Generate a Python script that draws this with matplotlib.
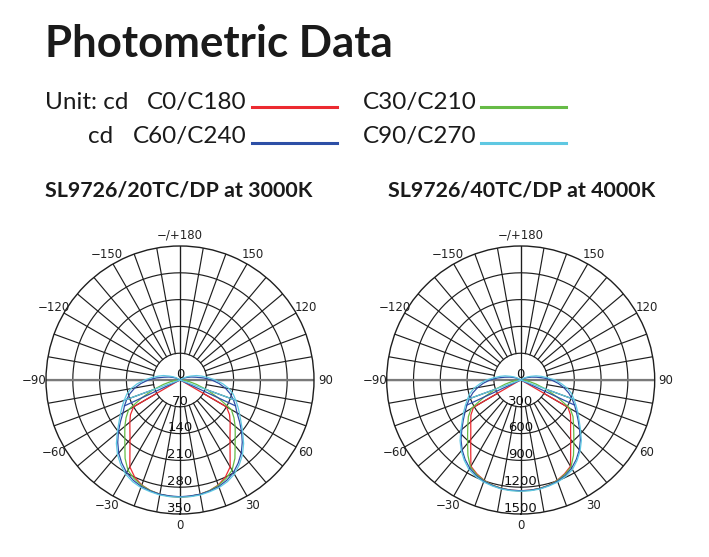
import numpy as np
import matplotlib.pyplot as plt

# angles (deg from nadir) of the half profiles
gamma = [0, 5, 10, 15, 20, 25, 30, 35, 40, 45, 50, 55, 60, 65, 70, 75, 80, 85, 90,
         95, 100, 105, 110, 115, 120, 125, 130, 135, 180]

# SL9726/20TC/DP at 3000K (cd)
red_3000 = [306, 305, 303, 299, 292, 280, 262, 228, 203, 185, 171, 158, 140, 5, 0, 0, 0, 0, 0,
            0, 0, 0, 0, 0, 0, 0, 0, 0, 0]
green_3000 = [306, 305, 303, 299, 293, 284, 272, 250, 224, 204, 188, 172, 155, 110, 75, 45, 25, 10, 0,
              0, 0, 0, 0, 0, 0, 0, 0, 0, 0]
blue_3000 = [305, 304, 303, 300, 296, 289, 279, 265, 249, 230, 210, 190, 172, 160, 148, 135, 120, 102, 83,
             62, 42, 30, 20, 12, 6, 2, 0, 0, 0]
cyan_3000 = [306, 306, 305, 302, 299, 293, 284, 270, 254, 235, 214, 195, 180, 167, 155, 144, 130, 112, 92,
             74, 58, 45, 30, 20, 12, 6, 3, 0, 0]

# SL9726/40TC/DP at 4000K (cd)
red_4000 = [1240, 1238, 1232, 1220, 1195, 1160, 1115, 975, 870, 790, 730, 680, 610, 20, 0, 0, 0, 0, 0,
            0, 0, 0, 0, 0, 0, 0, 0, 0, 0]
green_4000 = [1242, 1240, 1233, 1220, 1198, 1168, 1125, 1030, 925, 840, 772, 715, 640, 450, 300, 180, 100, 40, 0,
              0, 0, 0, 0, 0, 0, 0, 0, 0, 0]
blue_4000 = [1240, 1238, 1235, 1222, 1205, 1180, 1140, 1085, 1020, 945, 860, 785, 720, 665, 610, 555, 490, 420, 345,
             260, 180, 125, 80, 45, 20, 5, 0, 0, 0]
cyan_4000 = [1245, 1244, 1240, 1228, 1215, 1192, 1158, 1100, 1035, 960, 875, 800, 740, 685, 635, 590, 530, 455, 385,
             300, 235, 180, 120, 80, 45, 20, 8, 0, 0]

# short cut-off legs of the C60 / C90 planes
blue_cut_gamma = [65, 70]
cyan_cut_gamma = [70, 75]
blue_cut_3000 = [160, 0]
cyan_cut_3000 = [155, 0]
blue_cut_4000 = [665, 0]
cyan_cut_4000 = [635, 0]

ticks_3000 = [70, 140, 210, 280, 350]
ticks_4000 = [300, 600, 900, 1200, 1500]

angle_ticks = [0, 30, 60, 90, 120, 150, 180, -150, -120, -90, -60, -30]
angle_labels = ['0', '30', '60', '90', '120', '150', '\u2212/+180',
                '\u2212150', '\u2212120', '\u221290', '\u221260', '\u221230']

colors = {'red': '#ec2a30', 'green': '#66bb46', 'blue': '#2d4fa6', 'cyan': '#5fc8e2'}

W, H = 709, 557


def fx(x):
    return x / W


def fy(y):
    return 1 - y / H


def mirror(g, v):
    # C-plane on the right, opposite plane on the left
    g = np.array(g, dtype=float)
    v = np.array(v, dtype=float)
    th = np.concatenate([-g[::-1], g[1:]])
    r = np.concatenate([v[::-1], v[1:]])
    return np.deg2rad(th), r


def polar_chart(cx, series, cuts, ticks):
    R = 134
    ax = fig.add_axes([fx(cx - R), fy(380 + R), 2 * R / W, 2 * R / H], projection='polar')
    rmax = ticks[-1]
    ax.set_theta_zero_location('S')
    ax.set_theta_direction(1)
    ax.set_ylim(0, rmax)
    ax.set_xticks([])
    ax.set_yticks([])
    ax.grid(False)
    ax.spines['polar'].set_color('#1e1e1e')
    ax.spines['polar'].set_linewidth(1.0)

    full = np.linspace(0, 2 * np.pi, 361)
    for t in ticks[:-1]:
        ax.plot(full, [t] * len(full), color='#1e1e1e', lw=0.85)
    for a in range(0, 360, 10):
        ax.plot([np.deg2rad(a)] * 2, [ticks[0], rmax], color='#1e1e1e', lw=0.85)
    ax.plot(np.deg2rad([0, 0, 180]), [rmax, 0, rmax], color='#1e1e1e', lw=0.85)
    ax.plot(np.deg2rad([-90, 0, 90]), [rmax, 0, rmax], color='#7a7a7a', lw=1.6)

    for name, vals in series:
        th, r = mirror(gamma, vals)
        ax.plot(th, r, color=colors[name], lw=0.9)
    for name, g, vals in cuts:
        for sgn in (1, -1):
            ax.plot(np.deg2rad(np.array(g) * sgn), vals, color=colors[name], lw=0.9)

    off = rmax * 15 / 350
    ax.text(np.pi, off * 0.9, '0', ha='center', va='center', fontsize=9.5, color='#111111')
    for t in ticks:
        ax.text(0, t - off, str(t), ha='center', va='center', fontsize=9.5, color='#111111')
    for a, lab in zip(angle_ticks, angle_labels):
        ax.text(np.deg2rad(a), rmax * 1.085, lab, ha='center', va='center',
                fontsize=8.5, color='#222222', clip_on=False)
    return ax


fig = plt.figure(figsize=(W / 100, H / 100), dpi=100)

fig.text(fx(45), fy(57), 'Photometric Data', fontsize=31.5, fontweight='bold',
         family='Lato', va='baseline', color='#1a1a1a')

leg_font = dict(fontsize=17.5, family='Lato', fontweight='normal', va='baseline', color='#1a1a1a')
fig.text(fx(45), fy(109), 'Unit: cd', **leg_font)
fig.text(fx(247), fy(109), 'C0/C180', ha='right', **leg_font)
fig.text(fx(88), fy(143), 'cd', **leg_font)
fig.text(fx(247), fy(143), 'C60/C240', ha='right', **leg_font)
fig.text(fx(363), fy(109), 'C30/C210', **leg_font)
fig.text(fx(363), fy(143), 'C90/C270', **leg_font)

for x0, y0, name in [(252, 107, 'red'), (481, 107, 'green'), (252, 143, 'blue'), (481, 143, 'cyan')]:
    fig.add_artist(plt.Line2D([fx(x0), fx(x0 + 85)], [fy(y0), fy(y0)], color=colors[name], lw=2.2))

sub_font = dict(fontsize=15.4, family='Lato', fontweight='bold', va='baseline', color='#1a1a1a')
fig.text(fx(45), fy(196), 'SL9726/20TC/DP at 3000K', **sub_font)
fig.text(fx(388), fy(196), 'SL9726/40TC/DP at 4000K', **sub_font)

polar_chart(180, [('red', red_3000), ('green', green_3000), ('blue', blue_3000), ('cyan', cyan_3000)],
            [('blue', blue_cut_gamma, blue_cut_3000), ('cyan', cyan_cut_gamma, cyan_cut_3000)],
            ticks_3000)
polar_chart(520.7, [('red', red_4000), ('green', green_4000), ('blue', blue_4000), ('cyan', cyan_4000)],
            [('blue', blue_cut_gamma, blue_cut_4000), ('cyan', cyan_cut_gamma, cyan_cut_4000)],
            ticks_4000)

fig.savefig('out.png', dpi=100)
